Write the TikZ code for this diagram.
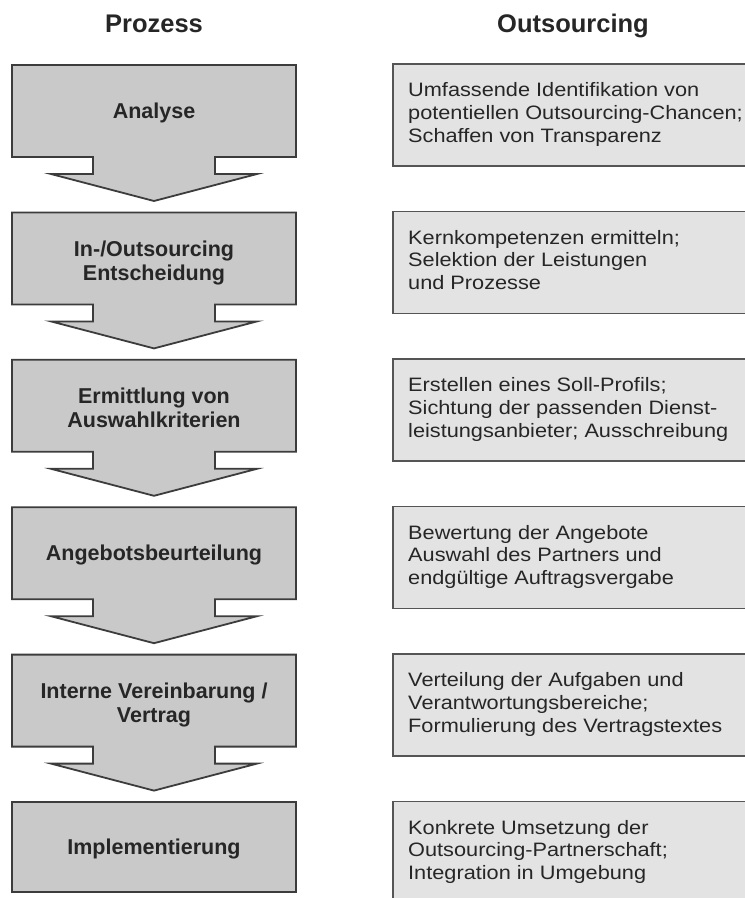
\documentclass[tikz,border=0pt]{standalone}
\usepackage{fontspec}
\setmainfont{Liberation Sans}
\newfontfamily\notefont[FakeStretch=1.12]{Liberation Sans}

\definecolor{procfill}{HTML}{C9C9C9}
\definecolor{notefill}{HTML}{E3E3E3}
\definecolor{edgegray}{HTML}{3C3C3C}
\definecolor{notedge}{HTML}{555555}
\definecolor{ink}{HTML}{262626}

\tikzset{
  stepshape/.style={fill=procfill, draw=edgegray, line width=1.8pt, line join=miter},
  notebox/.style={fill=notefill, draw=notedge, line width=1.4pt},
  headtext/.style={inner sep=0pt, text=ink, font={\bfseries\fontsize{25.5}{28}\selectfont}},
  steptext/.style={inner sep=0pt, text=ink, align=center, font={\bfseries\fontsize{21.5}{24}\selectfont}},
  notetext/.style={inner sep=0pt, text=ink, align=left, anchor=north west, font={\notefont\fontsize{19.4}{22.7}\selectfont}}
}

\begin{document}
\begin{tikzpicture}[x=1pt, y=-1pt]
\useasboundingbox (0,0) rectangle (745,898);
\clip (0,0) rectangle (745,898);
\fill[white] (0,0) rectangle (745,898);

% column headings
\node[headtext, anchor=base] (hproc) at (154,32) {Prozess};
\node[headtext, anchor=base] (hout) at (573,32) {Outsourcing};

% process steps: box with a downward arrow below it
\foreach \t in {65,212.4,359.8,507.2,654.6}
  \draw[stepshape] (12,\t) -- (296,\t) -- (296,\t+92) -- (215,\t+92) -- (215,\t+109)
    -- (257,\t+109) -- (154,\t+136) -- (51,\t+109) -- (93,\t+109) -- (93,\t+92)
    -- (12,\t+92) -- cycle;
\draw[stepshape] (12,802) rectangle (296,892);

% outsourcing notes (open to the right edge)
\foreach \t in {64,211.5,359,506.5,654,801.5}
  \draw[notebox] (393,\t) rectangle (765,\t+102);

% step labels
\node[steptext, anchor=base] (s1) at (154,118.7) {Analyse};
\node[steptext, anchor=north] (s2) at (154,240.8) {In-/Outsourcing\\Entscheidung};
\node[steptext, anchor=north] (s3) at (154,388.2) {Ermittlung von\\Auswahlkriterien};
\node[steptext, anchor=base] (s4) at (154,560.9) {Angebotsbeurteilung};
\node[steptext, anchor=north] (s5) at (154,683) {Interne Vereinbarung /\\Vertrag};
\node[steptext, anchor=base] (s6) at (154,854.7) {Implementierung};

% note texts
\node[notetext] (n1) at (408,82.4) {Umfassende Identifikation von\\potentiellen Outsourcing-Chancen;\\Schaffen von Transparenz};
\node[notetext] (n2) at (408,229.9) {Kernkompetenzen ermitteln;\\Selektion der Leistungen\\und Prozesse};
\node[notetext] (n3) at (408,377.4) {Erstellen eines Soll-Profils;\\Sichtung der passenden Dienst-\\leistungsanbieter; Ausschreibung};
\node[notetext] (n4) at (408,524.9) {Bewertung der Angebote\\Auswahl des Partners und\\endgültige Auftragsvergabe};
\node[notetext] (n5) at (408,672.4) {Verteilung der Aufgaben und\\Verantwortungsbereiche;\\Formulierung des Vertragstextes};
\node[notetext] (n6) at (408,819.9) {Konkrete Umsetzung der\\Outsourcing-Partnerschaft;\\Integration in Umgebung};
\end{tikzpicture}
\end{document}
